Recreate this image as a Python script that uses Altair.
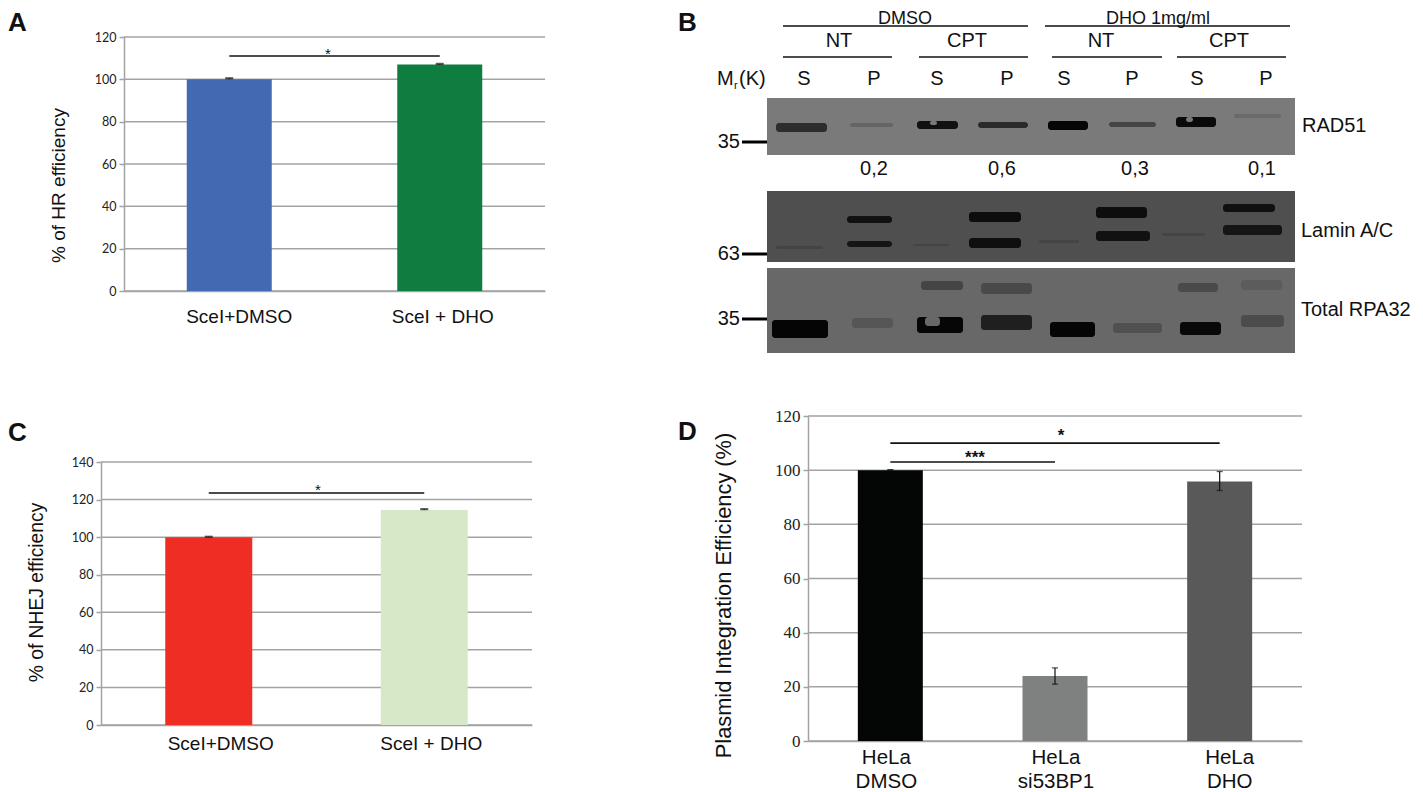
import json
import altair as alt
import pandas as pd

W, H = 1407, 783
SANS = "Liberation Sans"
NARROW = "Liberation Sans Narrow"
GRID = "#a3a3a3"

# ---- bar panels: values
cats_a = ["SceI+DMSO", "SceI + DHO"]
vals_a = [100.0, 107.0]
caps_a = [100.5, 107.3]
cols_a = ["#4269b1", "#0f7d40"]

cats_c = ["SceI+DMSO", "SceI + DHO"]
vals_c = [100.0, 114.5]
caps_c = [100.2, 114.9]
cols_c = ["#ef2d24", "#d6e8c8"]

cats_d = ["HeLa|DMSO", "HeLa|si53BP1", "HeLa|DHO"]
vals_d = [100.0, 24.0, 95.8]
lows_d = [100.0, 21.0, 92.5]
highs_d = [100.2, 27.0, 99.5]
cols_d = ["#040606", "#7f8080", "#595959"]

ticks_a = [0, 20, 40, 60, 80, 100, 120]
ticks_c = [0, 20, 40, 60, 80, 100, 120, 140]
ticks_d = [0, 20, 40, 60, 80, 100, 120]

sig_a = [(["SceI+DMSO", "SceI + DHO"], 111.0)]
sig_c = [(["SceI+DMSO", "SceI + DHO"], 123.5)]
sig_d = [(["HeLa|DMSO", "HeLa|si53BP1"], 103.0), (["HeLa|DMSO", "HeLa|DHO"], 110.0)]

# ---- blot panel, in figure coordinates
blot_names = ["RAD51", "Lamin A/C", "Total RPA32"]
blot_x0 = [767, 767, 767]
blot_x1 = [1295, 1295, 1295]
blot_y0 = [98, 191, 268]
blot_y1 = [155, 262, 353]
blot_grey = ["#7a7a7a", "#4f4f4f", "#686868"]

band_x0 = [776, 850, 917, 978, 1048, 1109, 1176, 1234,
           847, 847, 969, 969, 1096, 1096, 1223, 1223, 776, 913, 1039, 1162,
           772, 852, 917, 921, 981, 981, 1050, 1113, 1180, 1178, 1241, 1241,
           930, 1186, 925]
band_x1 = [827, 893, 958, 1028, 1088, 1156, 1216, 1281,
           892, 892, 1021, 1021, 1147, 1150, 1275, 1282, 823, 949, 1079, 1205,
           828, 893, 963, 963, 1032, 1032, 1095, 1162, 1221, 1218, 1284, 1282,
           937, 1193, 940]
band_y0 = [123, 123, 121, 122, 121, 122, 117, 114,
           216, 241, 212, 238, 207, 231, 204, 225, 246, 244, 240, 233,
           320, 318, 317, 281, 315, 283, 322, 323, 322, 283, 315, 280,
           121, 117, 317]
band_y1 = [132, 127, 129, 128, 130, 127, 127, 118,
           223, 247, 222, 248, 218, 241, 212, 235, 249, 246, 243, 236,
           338, 328, 333, 290, 330, 294, 337, 333, 335, 292, 327, 290,
           125, 122, 326]
band_grey = ["#2d2d2d", "#656565", "#111111", "#2a2a2a", "#050505", "#454545", "#0a0a0a", "#6a6a6a",
             "#111111", "#151515", "#0d0d0d", "#0f0f0f", "#0d0d0d", "#111111", "#101010", "#151515",
             "#444444", "#444444", "#444444", "#444444",
             "#050505", "#565656", "#060606", "#454545", "#1f1f1f", "#4a4a4a", "#050505", "#505050",
             "#080808", "#4a4a4a", "#4c4c4c", "#5c5c5c",
             "#7a7a7a", "#7a7a7a", "#686868"]

head_rule_x0 = [783, 1045, 783, 919, 1052, 1177]
head_rule_x1 = [1028, 1290, 892, 1028, 1162, 1286]
head_rule_y = [26, 26, 57, 57, 57, 57]

top_text = ["DMSO", "DHO 1mg/ml"]
top_x = [905, 1158]
top_y = [18.5, 18.5]

head_text = ["NT", "CPT", "NT", "CPT",
             "S", "P", "S", "P", "S", "P", "S", "P",
             "0,2", "0,6", "0,3", "0,1"]
head_x = [839, 967, 1101, 1229,
          804, 874, 937, 1007, 1064, 1132, 1197, 1266,
          874, 1002, 1135, 1262]
head_y = [41, 41, 41, 41,
          79, 79, 79, 79, 79, 79, 79, 79,
          169, 169, 169, 169]

marker_text = ["35", "63", "35"]
marker_y = [142, 254, 319]
marker_x0 = [742, 742, 742]
marker_x1 = [767, 767, 767]
marker_label_x = [740, 740, 740]

protein_x = [1302, 1301, 1301]
protein_y = [126, 231, 310]

mr_text = ["M", "(K)"]
mr_x = [717, 739]
mr_y = [79, 79]

letters = ["A", "B", "C", "D"]
letter_x = [8, 678, 8, 678]
letter_y = [23, 23, 433, 432]

stars = ["*", "*", "***", "*"]
star_x = [328, 318, 975, 1061]
star_y = [54, 490, 458, 436]
star_size = [15, 15, 17, 17]

# horizontal displacement of each category label from its bar, as in the picture
shift_a = [10, 3]
shift_c = [12, 7]
shift_d = [-4, 1, 10]

page_x = alt.Scale(domain=[8, 8 + W], range=[0, W])
page_y = alt.Scale(domain=[8, 8 + H], range=[0, H])


def bar_panel(cats, vals, cols, ticks, ymax, left, right, top, bottom, barw,
              title, title_x, title_y, title_size, sig, shift,
              low=None, high=None, tick_font="Lato", tick_size=12.5,
              lab_font=SANS, lab_size=19, lab_pad=12, line_h=25, err_w=8, err_t=2.2):
    l, r, t, b = left - 8, right - 8, top - 8, bottom - 8
    xs = alt.Scale(domain=cats, range=[l, r], paddingInner=0, paddingOuter=0)
    ys = alt.Scale(domain=[0, ymax], range=[b, t], nice=False)
    df = pd.DataFrame({"cat": cats, "val": vals,
                       "low": low if low else vals,
                       "high": high if high else vals})
    shift_expr = f"{json.dumps(shift)}[indexof({json.dumps(cats)},datum.value)]"
    xe = alt.X("cat:N", scale=xs, sort=cats, axis=alt.Axis(
        orient="bottom", offset=-(H - b), title=None, labelAngle=0, ticks=False,
        domain=True, domainColor=GRID, domainWidth=1.5,
        labelFont=lab_font, labelFontSize=lab_size, labelColor="#111111",
        labelPadding=lab_pad, labelLimit=300, labelOffset=alt.ExprRef(shift_expr),
        labelExpr="split(datum.label,'|')", labelLineHeight=line_h))
    ye = alt.Y("val:Q", scale=ys, axis=alt.Axis(
        orient="left", offset=-l, values=ticks, grid=False, title=title,
        titleFont=SANS, titleFontSize=title_size, titleFontWeight="normal",
        titleColor="#111111", titleX=title_x - left, titleY=title_y - 8,
        domainColor=GRID, domainWidth=1.5, tickColor=GRID, tickWidth=1.5, tickSize=5,
        labelFont=tick_font, labelFontSize=tick_size, labelColor="#222222", labelPadding=3))
    grid = alt.Chart(pd.DataFrame({"t": ticks})).mark_rule(
        color=GRID, strokeWidth=1.5).encode(
        y=alt.Y("t:Q", scale=ys, axis=None), x=alt.value(l), x2=alt.value(r))
    bars = alt.Chart(df).mark_bar(size=barw).encode(
        x=xe, y=ye,
        color=alt.Color("cat:N", scale=alt.Scale(domain=cats, range=cols), legend=None))
    parts = [grid, bars]
    nox = alt.X("cat:N", scale=xs, sort=cats, axis=None)
    noy = alt.Y("high:Q", scale=ys, axis=None)
    parts.append(alt.Chart(df).mark_rule(color="#111111", strokeWidth=1.2).encode(
        x=nox, y=noy, y2="low:Q"))
    parts.append(alt.Chart(df).mark_tick(color="#111111", size=err_w, thickness=err_t).encode(x=nox, y=noy))
    if low:
        parts.append(alt.Chart(df).mark_tick(color="#111111", size=err_w, thickness=err_t).encode(
            x=nox, y=alt.Y("low:Q", scale=ys, axis=None)))
    for pair, v in sig:
        sdf = pd.DataFrame({"cat": pair, "v": [v, v]})
        parts.append(alt.Chart(sdf).mark_line(color="#111111", strokeWidth=1.6).encode(
            x=nox, y=alt.Y("v:Q", scale=ys, axis=None)))
    return parts


panel_a = bar_panel(cats_a, vals_a, cols_a, ticks_a, 120, 124, 545, 37, 291, 85,
                    "% of HR efficiency", 68, 185, 19, sig_a, shift_a, high=caps_a, lab_pad=16)
panel_c = bar_panel(cats_c, vals_c, cols_c, ticks_c, 140, 101, 532, 462, 725, 87,
                    "% of NHEJ efficiency", 46, 592, 19.3, sig_c, shift_c, high=caps_c, lab_pad=9)
panel_d = bar_panel(cats_d, vals_d, cols_d, ticks_d, 120, 808, 1302, 416, 741, 65,
                    "Plasmid Integration Efficiency (%)", 735, 595, 21.8, sig_d, shift_d,
                    low=lows_d, high=highs_d, tick_font=NARROW, tick_size=17,
                    lab_size=20.5, lab_pad=6, line_h=24, err_w=6, err_t=1.3)

# ---- blots and lettering, in figure coordinates
X = lambda f: alt.X(f, scale=page_x, axis=None)
Y = lambda f: alt.Y(f, scale=page_y, axis=None)

blots = alt.Chart(pd.DataFrame({"a": blot_x0, "b": blot_x1, "c": blot_y0, "d": blot_y1,
                                "g": blot_grey})).mark_rect().encode(
    x=X("a:Q"), x2="b:Q", y=Y("c:Q"), y2="d:Q", color=alt.Color("g:N", scale=None))
bands = alt.Chart(pd.DataFrame({"a": band_x0, "b": band_x1, "c": band_y0, "d": band_y1,
                                "g": band_grey})).mark_rect(cornerRadius=3).encode(
    x=X("a:Q"), x2="b:Q", y=Y("c:Q"), y2="d:Q", color=alt.Color("g:N", scale=None))
head_rules = alt.Chart(pd.DataFrame({"a": head_rule_x0, "b": head_rule_x1, "y": head_rule_y})).mark_rule(
    color="#111111", strokeWidth=1.5).encode(x=X("a:Q"), x2="b:Q", y=Y("y:Q"))
markers = alt.Chart(pd.DataFrame({"a": marker_x0, "b": marker_x1, "y": marker_y})).mark_rule(
    color="#000000", strokeWidth=3).encode(x=X("a:Q"), x2="b:Q", y=Y("y:Q"))


def texts(t, x, y, size, align="center", weight="normal", font=SANS):
    return alt.Chart(pd.DataFrame({"t": t, "x": x, "y": y})).mark_text(
        font=font, fontSize=size, align=align, baseline="middle", fontWeight=weight, color="#111111"
    ).encode(x=X("x:Q"), y=Y("y:Q"), text="t:N")


overlay = [
    blots, bands, head_rules, markers,
    texts(top_text, top_x, top_y, 18),
    texts(head_text, head_x, head_y, 20),
    texts(marker_text, marker_label_x, marker_y, 20, align="right"),
    texts(blot_names, protein_x, protein_y, 20, align="left"),
    texts(mr_text, mr_x, mr_y, 20, align="left"),
    texts(["r"], [734], [86], 11, align="left"),
    texts(letters, letter_x, letter_y, 26, align="left", weight="bold"),
    texts(stars[:2], star_x[:2], star_y[:2], star_size[0], weight="normal"),
    texts(stars[2:], star_x[2:], star_y[2:], star_size[2], weight="bold"),
]

chart = alt.layer(*overlay, *panel_a, *panel_c, *panel_d).resolve_scale(
    x="independent", y="independent", color="independent"
).resolve_axis(x="independent", y="independent").properties(
    width=W, height=H, padding=0, autosize=alt.AutoSizeParams(type="none"), background="white"
).configure_view(stroke=None)

chart.save("out.html", embed_options={"renderer": "svg", "actions": False})
